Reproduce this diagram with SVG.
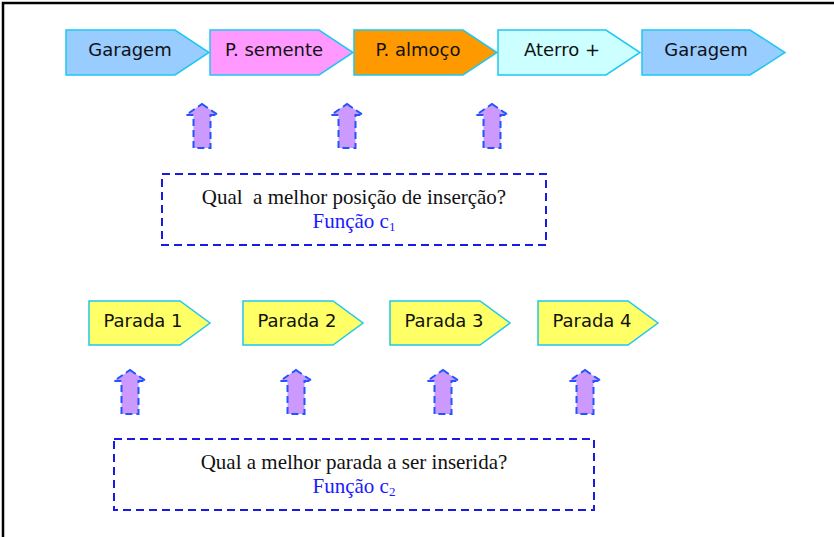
<svg xmlns="http://www.w3.org/2000/svg" width="834" height="537" viewBox="0 0 834 537">
<defs>
<style>
.pent{stroke:#1EC8F0;stroke-width:1.5}
.lbl{font-family:"DejaVu Sans",Verdana,sans-serif;font-size:18px;fill:#111;text-anchor:middle}
.arr{fill:#CC99FF;stroke:#2255FF;stroke-width:2;stroke-dasharray:7,4}
.box{fill:none;stroke:#1a1aE6;stroke-width:2;stroke-dasharray:8,5}
.q{font-family:"Liberation Serif","Times New Roman",serif;font-size:21px;fill:#111;text-anchor:middle}
.f{font-family:"Liberation Serif","Times New Roman",serif;font-size:21px;fill:#1a1aFF;text-anchor:middle}
</style>
<path id="upArrow" class="arr" d="M0,-44 L16,-33 L8.5,-33 L8.5,0 L-8.5,0 L-8.5,-33 L-16,-33 Z"/>
</defs>
<rect width="834" height="537" fill="#fff"/>
<path d="M3,537 L3,3 L834,3" fill="none" stroke="#000" stroke-width="2.5"/>

<g id="route">
<g id="garagem1"><path class="pent" fill="#99CCFF" d="M66,30 H175 L209,52.5 L175,75 H66 Z"/><text class="lbl" x="130" y="56">Garagem</text></g>
<g id="semente"><path class="pent" fill="#FF99FF" d="M210,30 H319 L353,52.5 L319,75 H210 Z"/><text class="lbl" x="274" y="56">P. semente</text></g>
<g id="almoco"><path class="pent" fill="#FF9900" d="M354,30 H463 L497,52.5 L463,75 H354 Z"/><text class="lbl" x="418" y="56">P. almoço</text></g>
<g id="aterro"><path class="pent" fill="#CCFFFF" d="M498,30 H606 L640,52.5 L606,75 H498 Z"/><text class="lbl" x="562" y="56">Aterro +</text></g>
<g id="garagem2"><path class="pent" fill="#99CCFF" d="M642,30 H750 L785,52.5 L750,75 H642 Z"/><text class="lbl" x="706" y="56">Garagem</text></g>
</g>

<g id="connectors">
<use href="#upArrow" x="202" y="148"/>
<use href="#upArrow" x="347" y="148"/>
<use href="#upArrow" x="492" y="148"/>
<use href="#upArrow" x="130" y="414"/>
<use href="#upArrow" x="296" y="414"/>
<use href="#upArrow" x="443" y="414"/>
<use href="#upArrow" x="585" y="414"/>
</g>

<g id="box1">
<rect class="box" x="162" y="174" width="384" height="71"/>
<text class="q" x="354" y="204" xml:space="preserve">Qual  a melhor posição de inserção?</text>
<text class="f" x="354" y="228">Função c<tspan font-size="13" dy="3">1</tspan></text>
</g>

<g id="paradas">
<g id="parada1"><path class="pent" fill="#FFFF66" d="M89,301 H180 L210,323 L180,345 H89 Z"/><text class="lbl" x="143" y="327">Parada 1</text></g>
<g id="parada2"><path class="pent" fill="#FFFF66" d="M243,301 H333 L363,323 L333,345 H243 Z"/><text class="lbl" x="297" y="327">Parada 2</text></g>
<g id="parada3"><path class="pent" fill="#FFFF66" d="M390,301 H480 L510,323 L480,345 H390 Z"/><text class="lbl" x="444" y="327">Parada 3</text></g>
<g id="parada4"><path class="pent" fill="#FFFF66" d="M538,301 H628 L658,323 L628,345 H538 Z"/><text class="lbl" x="592" y="327">Parada 4</text></g>
</g>

<g id="box2">
<rect class="box" x="114" y="439" width="480" height="71"/>
<text class="q" x="354" y="469">Qual a melhor parada a ser inserida?</text>
<text class="f" x="354" y="493">Função c<tspan font-size="13" dy="3">2</tspan></text>
</g>
</svg>
